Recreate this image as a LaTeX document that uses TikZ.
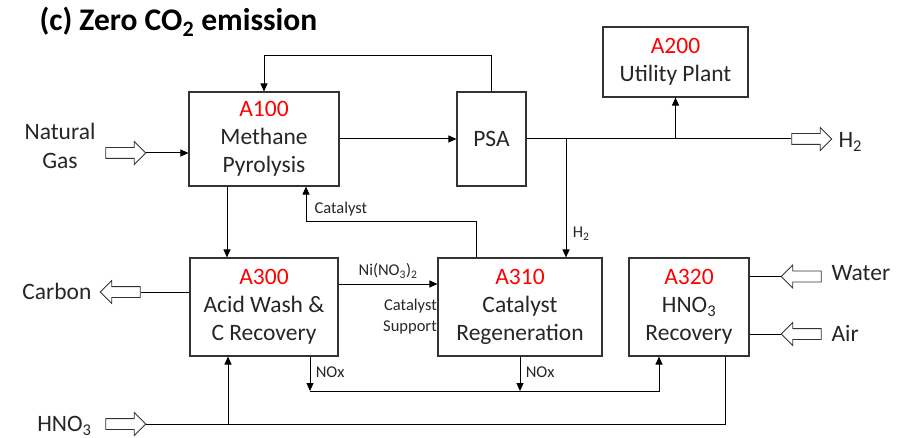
\documentclass[tikz,border=0pt]{standalone}
\usepackage{fontspec}
\setmainfont{Carlito}
\usetikzlibrary{arrows.meta,shapes.arrows}

\begin{document}
\begin{tikzpicture}[x=1pt,y=-1pt,
  box/.style={draw=black!80,line width=1.1pt,align=center,font=\fontsize{23.5}{28}\selectfont,text=black!85},
  flow/.style={line width=1pt,-{Triangle[length=8pt,width=7pt]}},
  pipe/.style={line width=1pt},
  hollow/.style={single arrow,draw=black!80,line width=0.9pt,inner sep=5pt,single arrow head extend=6pt,minimum height=40pt},
  big/.style={font=\fontsize{23.5}{29}\selectfont,text=black!85},
  small/.style={font=\fontsize{16.5}{21}\selectfont,text=black!85}]
\useasboundingbox (0,0) rectangle (907,438);
\node[anchor=base west,font=\fontsize{31.5}{36}\selectfont\bfseries] (title) at (36,31) {(c) Zero CO\textsubscript{2} emission};

\node[box,minimum width=150,minimum height=94] (a100) at (264,139) {\textcolor{red}{A100}\\Methane\\Pyrolysis};
\node[box,minimum width=69,minimum height=94] (psa) at (491.5,139) {PSA};
\node[box,minimum width=145,minimum height=70] (a200) at (675.5,62) {\textcolor{red}{A200}\\Utility Plant};
\node[box,minimum width=148,minimum height=98] (a300) at (264,307) {\textcolor{red}{A300}\\Acid Wash \&\\C Recovery};
\node[box,minimum width=164,minimum height=98] (a310) at (520,307) {\textcolor{red}{A310}\\Catalyst\\Regeneration};
\node[box,minimum width=120,minimum height=98] (a320) at (689,307) {\textcolor{red}{A320}\\HNO\textsubscript{3}\\Recovery};

\node[hollow] (ngarr) at (123,153) {};
\node[hollow] (h2arr) at (809,139) {};
\node[hollow,shape border rotate=180] (carbarr) at (123,292) {};
\node[hollow] (hnoarr) at (123,424) {};
\node[hollow,shape border rotate=180] (waterarr) at (804,276.5) {};
\node[hollow,shape border rotate=180] (airarr) at (804,334) {};

\node[big,align=center] (ng) at (60,146) {Natural\\Gas};
\node[big,anchor=west] (h2) at (835,142) {H\textsubscript{2}};
\node[big,anchor=east] (carbon) at (95,291) {Carbon};
\node[big,anchor=east] (hno3) at (95,426) {HNO\textsubscript{3}};
\node[big,anchor=west] (water) at (828,273) {Water};
\node[big,anchor=west] (air) at (828,333) {Air};

\coordinate (h2tap) at (566,139);
\coordinate (catl) at (306,222);
\coordinate (noxa) at (310,391);

\draw[flow] (ngarr.tip) -- (ngarr.tip -| a100.west);
\draw[flow] (a100) -- (psa);
\draw[flow] (psa.north) -- ++(0,-36) -| (a100.north);
\draw[pipe] (psa.east) -- (h2arr.tail);
\draw[flow] (a200.south |- psa.east) -- (a200.south);
\draw[flow] (h2tap) -- (h2tap |- a310.north) node[small,pos=0.8,anchor=west,xshift=3pt] {H\textsubscript{2}};
\draw[flow] ([xshift=-37]a100.south) -- ([xshift=-37]a300.north);
\draw[flow] ([xshift=-44]a310.north) |- (catl) -- (catl |- a100.south);
\node[small,anchor=south west] (catlab) at ([xshift=5,yshift=2]catl) {Catalyst};
\draw[flow] ([yshift=23]a300.east) -- ([yshift=23]a310.west) node[small,midway,above,yshift=2pt] {Ni(NO\textsubscript{3})\textsubscript{2}};
\node[small,align=right,anchor=east,inner sep=1pt] (support) at (438,317) {Catalyst\\Support};
\draw[pipe] (carbarr.tail) -- (carbarr.tail -| a300.west);
\draw[pipe] (hnoarr.tip) -| ([xshift=36]a320.south);
\draw[flow] (hnoarr.tip -| 228,0) -- (a300.south -| 228,0);
\draw[flow] (noxa |- a300.south) -- (noxa) node[small,pos=0.45,anchor=west,xshift=2pt] {NOx};
\draw[flow] (a310.south) -- (a310.south |- noxa) node[small,pos=0.45,anchor=west,xshift=2pt] {NOx};
\draw[flow] (noxa) -| ([xshift=-30]a320.south);
\draw[pipe] (waterarr.tip) -- (waterarr.tip -| a320.east);
\draw[pipe] (airarr.tip) -- (airarr.tip -| a320.east);
\end{tikzpicture}
\end{document}
